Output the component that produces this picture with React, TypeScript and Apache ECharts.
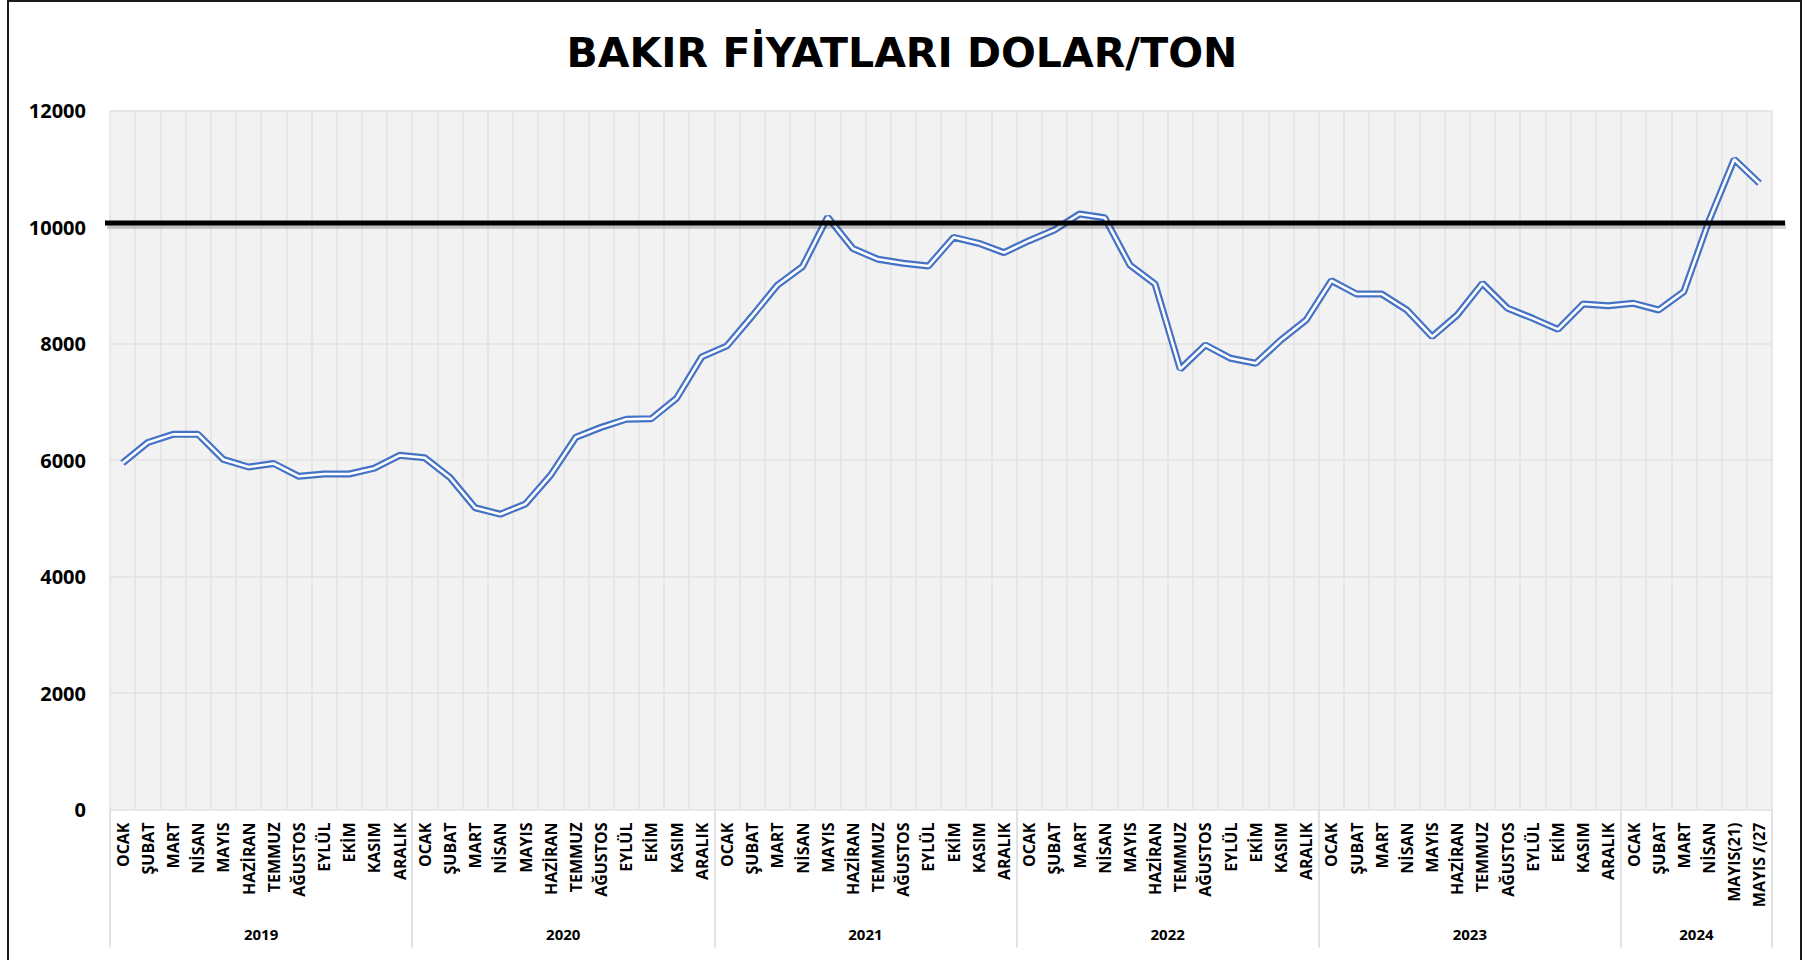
import React, { useEffect, useRef } from "react";
import * as echarts from "echarts";

const TITLE = "BAKIR FİYATLARI DOLAR/TON";
const years = ["2019", "2020", "2021", "2022", "2023", "2024"];
const monthNames = ["OCAK", "ŞUBAT", "MART", "NİSAN", "MAYIS", "HAZİRAN", "TEMMUZ", "AĞUSTOS", "EYLÜL", "EKİM", "KASIM", "ARALIK"];
const months2024 = ["OCAK", "ŞUBAT", "MART", "NİSAN", "MAYIS(21)", "MAYIS /(27"];

const v2019 = [5950, 6300, 6440, 6440, 6010, 5880, 5940, 5720, 5760, 5760, 5860, 6080];
const v2020 = [6040, 5700, 5180, 5070, 5245, 5740, 6390, 6560, 6700, 6710, 7060, 7770];
const v2021 = [7960, 8470, 9000, 9320, 10170, 9630, 9445, 9377, 9330, 9823, 9720, 9560];
const v2022 = [9765, 9948, 10223, 10160, 9348, 9021, 7560, 7974, 7746, 7660, 8060, 8403];
const v2023 = [9078, 8850, 8850, 8575, 8117, 8489, 9033, 8604, 8432, 8243, 8678, 8649];
const v2024 = [8690, 8575, 8890, 10110, 11162, 10750];

const REF_LINE = 10070;
const yTicks = [0, 2000, 4000, 6000, 8000, 10000, 12000];

const yearMonths = [monthNames, monthNames, monthNames, monthNames, monthNames, months2024];
const yearValues = [v2019, v2020, v2021, v2022, v2023, v2024];

export default function App() {
  const ref = useRef<HTMLDivElement>(null);
  useEffect(() => {
    if (!ref.current) return;
    const chart = echarts.init(ref.current, null, { renderer: "svg" });
    const categories: string[] = [];
    const values: number[] = [];
    const bounds: number[] = [0];
    const centers: number[] = [];
    yearMonths.forEach((ms, k) => {
      const start = categories.length;
      ms.forEach((m) => categories.push(m));
      yearValues[k].forEach((v) => values.push(v));
      bounds.push(categories.length);
      centers.push((start + categories.length) / 2);
    });
    const total = categories.length;
    const font = "'Open Sans', 'Noto Sans', sans-serif";
    chart.setOption({
      animation: false,
      backgroundColor: "#ffffff",
      title: {
        text: TITLE,
        left: "center",
        top: 27,
        textStyle: { fontFamily: "'DejaVu Sans', sans-serif", fontWeight: "bold", fontSize: 41, color: "#000" },
      },
      grid: {
        left: 110,
        right: 32,
        top: 110.5,
        bottom: 150.5,
        show: true,
        backgroundColor: "#f2f2f2",
        borderWidth: 0,
      },
      xAxis: [
        {
          type: "category",
          data: categories,
          boundaryGap: true,
          axisLine: { show: false },
          axisTick: { show: false },
          axisLabel: {
            interval: 0,
            rotate: 90,
            margin: 13,
            fontFamily: font,
            fontWeight: "bold",
            fontSize: 16,
            color: "#000",
          },
          splitLine: { show: true, interval: 0, lineStyle: { color: "#e2e2e2", width: 1.5 } },
        },
        {
          type: "value",
          position: "bottom",
          min: 0,
          max: total,
          axisLine: { show: false },
          splitLine: { show: false },
          axisTick: {
            show: true,
            customValues: bounds,
            length: 138,
            lineStyle: { color: "#d9d9d9", width: 1.5 },
          },
          axisLabel: {
            customValues: centers,
            margin: 117,
            fontFamily: font,
            fontWeight: "bold",
            fontSize: 15,
            color: "#000",
            formatter: (v: number) => {
              const idx = centers.findIndex((c) => Math.abs(c - v) < 0.01);
              return idx >= 0 ? years[idx] : "";
            },
          },
        },
      ],
      yAxis: {
        type: "value",
        min: yTicks[0],
        max: yTicks[yTicks.length - 1],
        interval: 2000,
        axisLine: { show: false },
        axisTick: { show: false },
        axisLabel: {
          margin: 24,
          fontFamily: font,
          fontWeight: "bold",
          fontSize: 20,
          color: "#000",
          formatter: (v: number) => String(v),
        },
        splitLine: { show: true, lineStyle: { color: "#e2e2e2", width: 1.5 } },
      },
      series: [
        {
          type: "line",
          data: values,
          symbol: "none",
          lineStyle: { color: "#4472C4", width: 7 },
          z: 2,
        },
        {
          type: "line",
          data: values,
          symbol: "none",
          lineStyle: { color: "#ffffff", width: 2.6 },
          z: 3,
        },
      ],
    });
    const y = chart.convertToPixel({ yAxisIndex: 0 }, REF_LINE) as number;
    const xLeft = (chart.convertToPixel({ xAxisIndex: 1 }, 0) as number) - 5;
    const xRight = (chart.convertToPixel({ xAxisIndex: 1 }, total) as number) + 13;
    chart.setOption({
      graphic: [
        {
          type: "line",
          z: 99,
          shape: { x1: xLeft + 2, y1: y + 3, x2: xRight + 1, y2: y + 3 },
          style: { stroke: "rgba(0,0,0,0.16)", lineWidth: 6 },
        },
        {
          type: "line",
          z: 100,
          shape: { x1: xLeft, y1: y, x2: xRight, y2: y },
          style: { stroke: "#000", lineWidth: 5 },
        },
      ],
    });
    return () => chart.dispose();
  }, []);
  return (
    <div style={{ position: "absolute", left: 0, top: 0, width: 1804, height: 960, overflow: "hidden", background: "#fff" }}>
      <div ref={ref} style={{ position: "absolute", left: 0, top: 0, width: 1804, height: 960 }} />
      <div
        style={{
          position: "absolute",
          left: 7,
          top: 0,
          width: 1795,
          height: 1000,
          border: "2px solid #1a1a1a",
          boxSizing: "border-box",
          pointerEvents: "none",
        }}
      />
    </div>
  );
}
